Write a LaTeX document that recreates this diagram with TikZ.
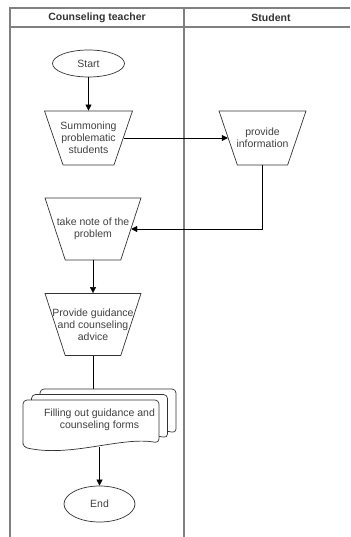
\documentclass[tikz,border=0pt]{standalone}
\usepackage{fontspec}
\setmainfont{Liberation Sans}
\usetikzlibrary{shapes.geometric,arrows.meta}

\begin{document}
\begin{tikzpicture}
  [x=1pt, y=-1pt,
  lane/.style={draw=black!50, line width=1.2pt},
  term/.style={ellipse, draw=black!80, line width=0.7pt, inner sep=0pt},
  trap/.style={trapezium, draw=black!80, line width=0.7pt, shape border rotate=180,
    trapezium left angle=70, trapezium right angle=70, trapezium stretches=true, inner sep=2pt},
  txt/.style={align=center, text=black!75, inner sep=0pt, font=\fontsize{10.5}{12}\selectfont},
  head/.style={text=black!80, font=\fontsize{10.5}{12}\selectfont\bfseries},
  doc/.style={draw=black!80, line width=0.7pt, fill=white, rounded corners=4pt},
  >={Triangle[length=6pt,width=6pt]}]
  \useasboundingbox (0,0) rectangle (350,537);
  % swimlanes
  \draw[lane] (350,8) -- (10,8) -- (10,537);
  \draw[lane] (10,27) -- (350,27);
  \draw[lane] (184,8) -- (184,537);
  \node (teacher) [head] at (97,17.5) {Counseling teacher};
  \node (student) [head] at (271,17.5) {Student};
  % shapes
  \node (start) [term, minimum width=72pt, minimum height=27pt] at (88.5,63.5) {};
  \node (summ)  [trap, minimum width=88pt, minimum height=54pt] at (88.5,138) {};
  \node (info)  [trap, minimum width=87pt, minimum height=54pt] at (262.5,138) {};
  \node (note)  [trap, minimum width=96pt, minimum height=62pt] at (93,229) {};
  \node (guide) [trap, minimum width=96pt, minimum height=62pt] at (93,324.5) {};
  \node (end)   [term, minimum width=71pt, minimum height=36pt] at (99.5,504) {};
  \coordinate (formstop) at (93,389);
  \coordinate (formsbot) at (99.5,447);
  % texts
  \node (starttxt) [txt] at (start) {Start};
  \node (summtxt)  [txt] at (summ)  {Summoning\\problematic\\students};
  \node (infotxt)  [txt] at (info)  {provide\\information};
  \node (notetxt)  [txt] at (note)  {take note of the\\problem};
  \node (guidetxt) [txt] at (guide) {Provide guidance\\and counseling\\advice};
  \node (endtxt)   [txt] at (end)   {End};
  % connectors
  \draw[->]   (start) -- (summ);
  \draw[->]   (summ) -- (info);
  \draw[->]   (info) |- (note);
  \draw[->]   (note) -- (guide);
  \draw       (guide) -- (formstop);
  \draw[->]   (formsbot) -- (end);
  % stacked documents
  \draw[doc] (40,430) -- (40,389) -- (176,389) -- (176,433) .. controls (145,426) and (90,448) .. (40,430) -- cycle;
  \draw[doc] (31.5,436) -- (31.5,394.5) -- (167.5,394.5) -- (167.5,438) .. controls (136,431) and (80,453) .. (31.5,436) -- cycle;
  \draw[doc] (23,447) -- (23,400) -- (159,400) -- (159,443) .. controls (122,436) and (70,458) .. (23,447) -- cycle;
  \node (forms) [txt] at (99.5,420) {Filling out guidance and\\counseling forms};
\end{tikzpicture}
\end{document}
